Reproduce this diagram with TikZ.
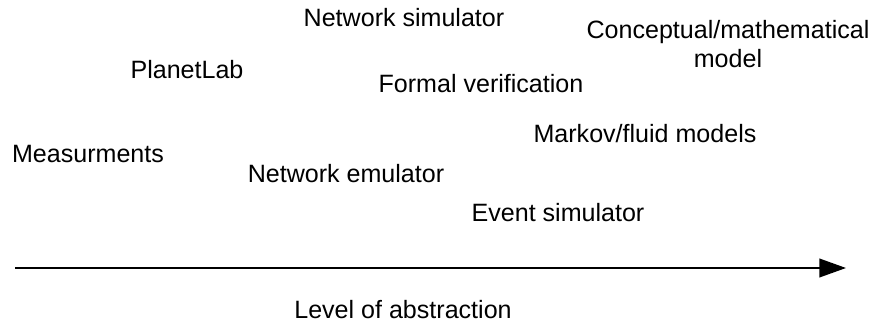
\documentclass[tikz,border=0pt]{standalone}
\usepackage{fontspec}
\setmainfont{Liberation Sans}
\usetikzlibrary{arrows.meta}

\begin{document}
\begin{tikzpicture}[
    x=0.75pt, y=-0.75pt,
    every node/.style={font=\fontsize{18.8}{22}\selectfont, inner sep=0pt},
    arrow/.style={-{Triangle[length=20pt, width=14pt]}, line width=1.4pt}
]
\useasboundingbox (0,0) rectangle (875,324);
\node (netsim) at (404,18) {Network simulator};
\node[align=center] (concept) at (728,44) {Conceptual/mathematical\\model};
\node (planetlab) at (187,70) {PlanetLab};
\node (formal) at (481,84) {Formal verification};
\node (markov) at (645,134) {Markov/fluid models};
\node (measure) at (88,154) {Measurments};
\node (netemu) at (346,174) {Network emulator};
\node (eventsim) at (558,213) {Event simulator};
\node (level) at (403,310) {Level of abstraction};

\coordinate (start) at (15,268);
\coordinate (end) at (846,268);
\draw[arrow] (start) -- (end);
\end{tikzpicture}
\end{document}
